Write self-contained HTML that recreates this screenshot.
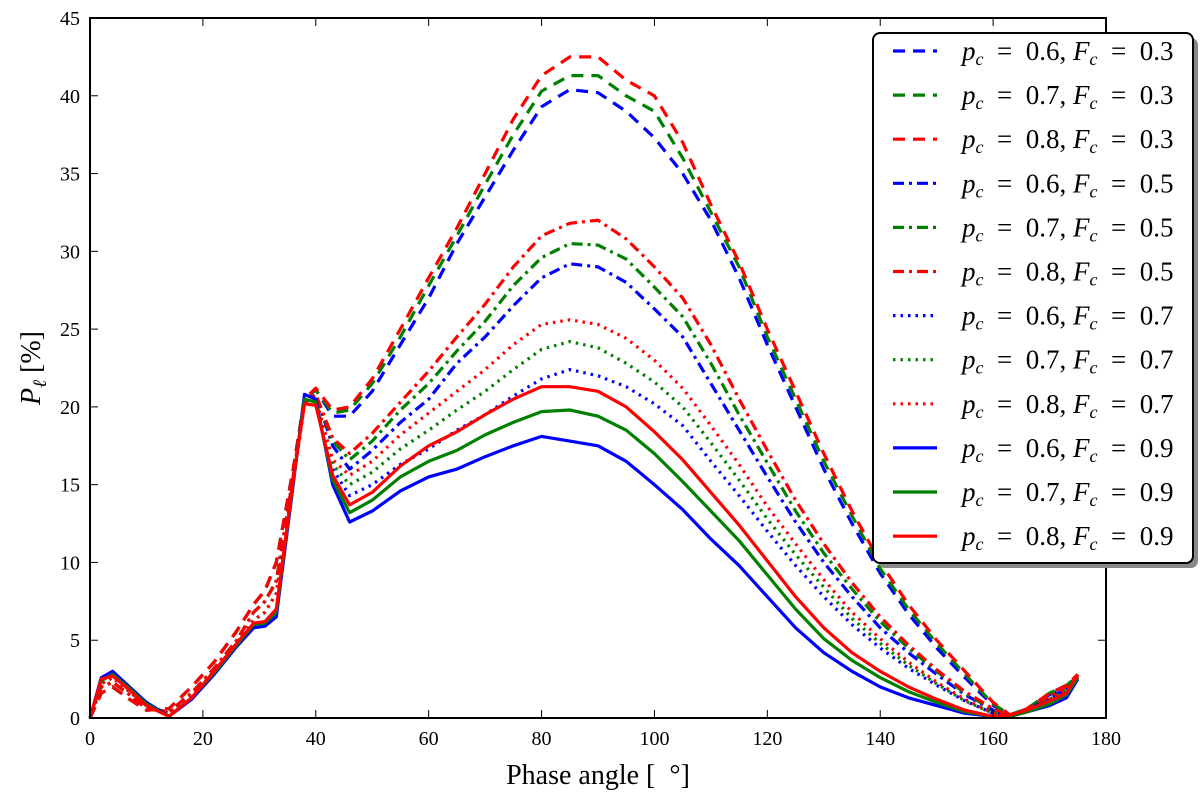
<!DOCTYPE html>
<html><head><meta charset="utf-8"><style>
body{margin:0;background:#fff}
svg{display:block;font-family:"Liberation Serif",serif}
</style></head><body>
<svg id="chart" width="1200" height="802" viewBox="0 0 1200 802" xmlns="http://www.w3.org/2000/svg">
<g id="plot"></g>
<g id="axes"></g>
<g id="legend"></g>
</svg>
<script>
const xs=[0,2,4,7,10,14,18,22,26,29,31,33,36,38,40,43,46,50,55,60,65,70,75,80,85,90,95,100,105,110,115,120,125,130,135,140,145,150,155,160,163,166,170,173,175];
const dashBlue=[0,1.6,2.0,1.2,0.5,0.6,2.0,3.6,5.6,7.3,8.2,10,16,20.5,21.1,19.4,19.4,21,24,27,30.5,33.5,36.5,39.3,40.4,40.2,39,37.3,35,32,28.3,24,20,16,12.5,9.3,6.7,4.5,2.6,0.8,0.2,0.6,1.5,2,2.7];
const dashGreen=[0,1.6,2.0,1.2,0.5,0.6,2.0,3.6,5.6,7.3,8.2,10,16,20.5,21.1,19.6,19.8,21.5,24.5,27.8,31,34.3,37.5,40.3,41.3,41.3,40,39,36,32.5,29,24.5,20.5,16.5,13,9.6,7,4.8,2.8,0.9,0.2,0.6,1.6,2.1,2.7];
const dashRed=[0,1.6,2.0,1.2,0.5,0.6,2.0,3.6,5.6,7.3,8.2,10,16,20.5,21.2,19.8,20,21.8,25,28.3,31.5,35,38.5,41.3,42.5,42.5,41,40,37,33,29.3,25,21,17,13.3,10,7.3,5,3,1,0.2,0.6,1.6,2.1,2.8];
const ddBlue=[0,2,2.3,1.5,0.6,0.4,1.6,3.2,5,6.8,7.5,8.8,15.5,20.3,20.8,17.5,16,17.2,19,20.5,22.8,24.5,26.5,28.3,29.2,29,28,26.3,24.5,21.5,18.5,15.5,12.6,10,7.8,5.8,4.2,2.8,1.5,0.5,0.1,0.5,1.3,1.9,2.6];
const ddGreen=[0,2,2.3,1.5,0.6,0.4,1.6,3.2,5,6.8,7.5,8.8,15.5,20.3,20.8,17.8,16.6,17.8,19.8,21.5,23.6,25.5,27.8,29.6,30.5,30.4,29.5,27.7,25.8,22.8,19.5,16.4,13.3,10.6,8.3,6.2,4.5,3,1.6,0.5,0.1,0.5,1.4,2,2.6];
const ddRed=[0,2,2.3,1.5,0.6,0.4,1.6,3.2,5,6.8,7.5,8.8,15.5,20.3,20.8,18,17,18.3,20.3,22.3,24.5,26.6,29,31,31.8,32,30.8,29,27,24,20.5,17.2,14,11.2,8.7,6.5,4.7,3.1,1.7,0.6,0.1,0.5,1.4,2,2.7];
const dotBlue=[0,2.2,2.6,1.7,0.8,0.3,1.4,3,4.8,6.3,6.8,8,15.2,20.2,20.5,16,14.3,15,16.3,17.3,18.5,19.5,20.7,21.8,22.4,22,21.3,20.2,18.8,16.5,14.3,12,9.8,7.8,6,4.5,3.2,2.1,1.1,0.3,0.1,0.4,1.2,1.8,2.6];
const dotGreen=[0,2.2,2.6,1.7,0.8,0.3,1.4,3,4.8,6.3,6.8,8,15.2,20.2,20.5,16.3,15,15.8,17.3,18.5,19.8,21,22.4,23.7,24.2,23.8,22.8,21.6,20,17.7,15.3,12.8,10.5,8.4,6.4,4.8,3.4,2.2,1.1,0.3,0.1,0.4,1.2,1.8,2.6];
const dotRed=[0,2.2,2.6,1.7,0.8,0.3,1.4,3,4.8,6.3,6.8,8,15.2,20.2,20.5,16.6,15.6,16.5,18.2,19.6,21,22.4,24,25.3,25.6,25.3,24.4,23,21.2,18.8,16.3,13.6,11.2,8.9,6.8,5.1,3.6,2.3,1.2,0.3,0.1,0.4,1.2,1.8,2.7];
const solBlue=[0,2.6,3.0,2.0,1.0,0.1,1.2,2.8,4.6,5.8,5.9,6.5,15,20.8,20.5,15,12.6,13.3,14.6,15.5,16,16.8,17.5,18.1,17.8,17.5,16.5,15,13.4,11.5,9.8,7.8,5.8,4.2,3,2,1.3,0.8,0.3,0.1,0.1,0.4,0.8,1.3,2.5];
const solGreen=[0,2.4,2.8,1.9,0.9,0.1,1.3,2.9,4.7,6,6.1,6.8,15.2,20.5,20.3,15.3,13.2,14,15.5,16.5,17.2,18.2,19,19.7,19.8,19.4,18.5,17,15.2,13.3,11.4,9.2,7,5.1,3.7,2.6,1.7,1,0.4,0.1,0.1,0.4,0.9,1.5,2.6];
const solRed=[0,2.5,2.7,1.8,0.8,0.1,1.3,3,4.8,6.1,6.2,7,15.3,20.2,20.1,15.6,13.7,14.5,16.2,17.5,18.4,19.5,20.5,21.3,21.3,21,20,18.4,16.6,14.5,12.4,10.1,7.8,5.8,4.2,3,2,1.2,0.5,0.1,0.2,0.5,1.1,1.6,2.8];
const xTicks=[0,20,40,60,80,100,120,140,160,180];
const yTicks=[0,5,10,15,20,25,30,35,40,45];
const pcLabels=["0.6","0.7","0.8","0.6","0.7","0.8","0.6","0.7","0.8","0.6","0.7","0.8"];
const fcLabels=["0.3","0.3","0.3","0.5","0.5","0.5","0.7","0.7","0.7","0.9","0.9","0.9"];

const NS="http://www.w3.org/2000/svg";
const L=90,R=1106,T=18,B=718;
const sx=v=>L+(v-0)/180*(R-L);
const sy=v=>B-(v-0)/45*(B-T);
function mk(tag,attrs,parent){const e=document.createElementNS(NS,tag);for(const k in attrs)e.setAttribute(k,attrs[k]);parent.appendChild(e);return e;}
const C={b:"#0000ff",g:"#008000",r:"#ff0000"};
const DASH={d:"12,8",dd:"11,5,3,5",dot:"2.5,5",s:""};
const series=[
 {v:dashBlue,c:C.b,s:"d",n:"line-p06-f03"},{v:dashGreen,c:C.g,s:"d",n:"line-p07-f03"},{v:dashRed,c:C.r,s:"d",n:"line-p08-f03"},
 {v:ddBlue,c:C.b,s:"dd",n:"line-p06-f05"},{v:ddGreen,c:C.g,s:"dd",n:"line-p07-f05"},{v:ddRed,c:C.r,s:"dd",n:"line-p08-f05"},
 {v:dotBlue,c:C.b,s:"dot",n:"line-p06-f07"},{v:dotGreen,c:C.g,s:"dot",n:"line-p07-f07"},{v:dotRed,c:C.r,s:"dot",n:"line-p08-f07"},
 {v:solBlue,c:C.b,s:"s",n:"line-p06-f09"},{v:solGreen,c:C.g,s:"s",n:"line-p07-f09"},{v:solRed,c:C.r,s:"s",n:"line-p08-f09"}];
const plot=document.getElementById('plot');
series.forEach(se=>{
  const d=se.v.map((y,i)=>(i?"L":"M")+sx(xs[i]).toFixed(1)+","+sy(y).toFixed(1)).join("");
  const p=mk('path',{d:d,fill:"none",stroke:se.c,"stroke-width":3.2,"stroke-dasharray":DASH[se.s],"stroke-linejoin":"round"},plot);
  
  
});
const ax=document.getElementById('axes');
const fr=mk('rect',{x:L,y:T,width:R-L,height:B-T,fill:"none",stroke:"#000","stroke-width":2},ax);


xTicks.forEach(t=>{
  const x=sx(t);
  mk('line',{x1:x,x2:x,y1:B,y2:B-8,stroke:"#000","stroke-width":1},ax);
  mk('line',{x1:x,x2:x,y1:T,y2:T+8,stroke:"#000","stroke-width":1},ax);
  const tx=mk('text',{x:x,y:B+27,"text-anchor":"middle","font-size":20},ax);tx.textContent=t;
  
  
});
yTicks.forEach(t=>{
  const y=sy(t);
  mk('line',{x1:L,x2:L+8,y1:y,y2:y,stroke:"#000","stroke-width":1},ax);
  mk('line',{x1:R,x2:R-8,y1:y,y2:y,stroke:"#000","stroke-width":1},ax);
  const tx=mk('text',{x:L-10,y:y+7,"text-anchor":"end","font-size":20},ax);tx.textContent=t;
  
  
});
const xt=mk('text',{x:598,y:784,"text-anchor":"middle","font-size":28},ax);
xt.textContent="Phase angle [ \u00a0°]";


const yt=mk('text',{transform:"translate(40,368) rotate(-90)","text-anchor":"middle","font-size":28},ax);
yt.innerHTML='<tspan font-style="italic">P</tspan><tspan font-style="italic" font-size="19" dy="6">ℓ</tspan><tspan dy="-6"> [%]</tspan>';


const lg=document.getElementById('legend');
mk('rect',{x:878,y:38,width:320,height:530,rx:7,fill:"#888"},lg);
const box=mk('rect',{x:873,y:33,width:320,height:530,rx:7,fill:"#fff",stroke:"#000","stroke-width":2},lg);


series.forEach((se,i)=>{
  const y=51+i*44.1;
  const g=mk('g',{},lg);
  
  
  mk('line',{x1:893,x2:937,y1:y,y2:y,stroke:se.c,"stroke-width":3.2,"stroke-dasharray":DASH[se.s]},g);
  const t=mk('text',{x:962,y:y+9,"font-size":27},g);
  t.innerHTML='<tspan font-style="italic">p</tspan><tspan font-style="italic" font-size="18" dy="5">c</tspan><tspan dy="-5">\u2002=\u2002'+pcLabels[i]+', </tspan><tspan font-style="italic">F</tspan><tspan font-style="italic" font-size="18" dy="5">c</tspan><tspan dy="-5">\u2002=\u2002'+fcLabels[i]+'</tspan>';
});
</script>
</body></html>
